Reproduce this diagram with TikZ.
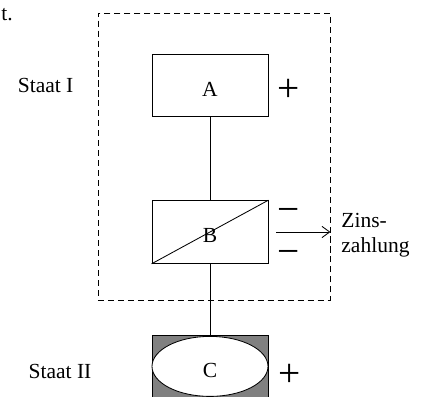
\documentclass[tikz,border=0pt]{standalone}
\usepackage{fontspec}
\setmainfont{Liberation Serif}
\usetikzlibrary{shapes.geometric, arrows.meta}
\definecolor{BoxGray}{HTML}{808080}

\begin{document}
\begin{tikzpicture}[
    font=\fontsize{15.3}{17.5}\selectfont,
    line width=0.6pt,
    statebox/.style={draw, rectangle, minimum width=2.9cm, minimum height=1.57cm,
                     inner sep=0pt, text height=0.54cm, text depth=0cm},
    signtext/.style={font=\fontsize{28}{32}\selectfont, inner sep=0pt, anchor=base}
  ]
      \useasboundingbox (0,0) rectangle (10.55,9.925);

      % --- Frame of Staat I ---
      \node[draw, dash pattern=on 4.3pt off 2.8pt, minimum width=5.8cm,
            minimum height=7.175cm, inner sep=0pt] (frame) at (5.35,6.0125) {};

      % --- Boxes ---
      \node[statebox] (A) at (5.25,7.79) {A};
      \node[statebox] (B) at (5.25,4.125) {B};
      \draw (B.south west) -- (B.north east);

      % Box C: gray square with a white ellipse on top
      \node[statebox, fill=BoxGray] (Cbox) at (5.25,0.765) {};
      \node[draw, ellipse, fill=white, minimum width=2.9cm, minimum height=1.5cm,
            inner sep=0pt, text height=0.56cm, text depth=0cm] (C) at (Cbox.center) {C};

      % --- Connectors ---
      \draw (A) -- (B);
      \draw (B) -- (Cbox);
      \draw[-{Straight Barb[length=5.5pt, width=8pt]}] ([xshift=0.2cm]B.east) -- (frame.east |- B.east);

      % --- Signs ---
      \node[signtext] (plusA) at (7.225,7.375) {+};
      \node[signtext] (minusB1) at (7.21,4.35) {−};
      \node[signtext] (minusB2) at (7.21,3.3) {−};
      \node[signtext] (plusC) at (7.24,0.25) {+};

      % --- Text Labels ---
      \node[anchor=base east, inner sep=0pt] (cut) at (0.33,9.4) {t.};
      \node (staatI) at (1.14,7.78) {Staat I};
      \node (staatII) at (1.5,0.63) {Staat II};
      \node[align=left, anchor=west, inner sep=0pt] (zins) at (8.525,4.05) {Zins-\\zahlung};
\end{tikzpicture}
\end{document}
